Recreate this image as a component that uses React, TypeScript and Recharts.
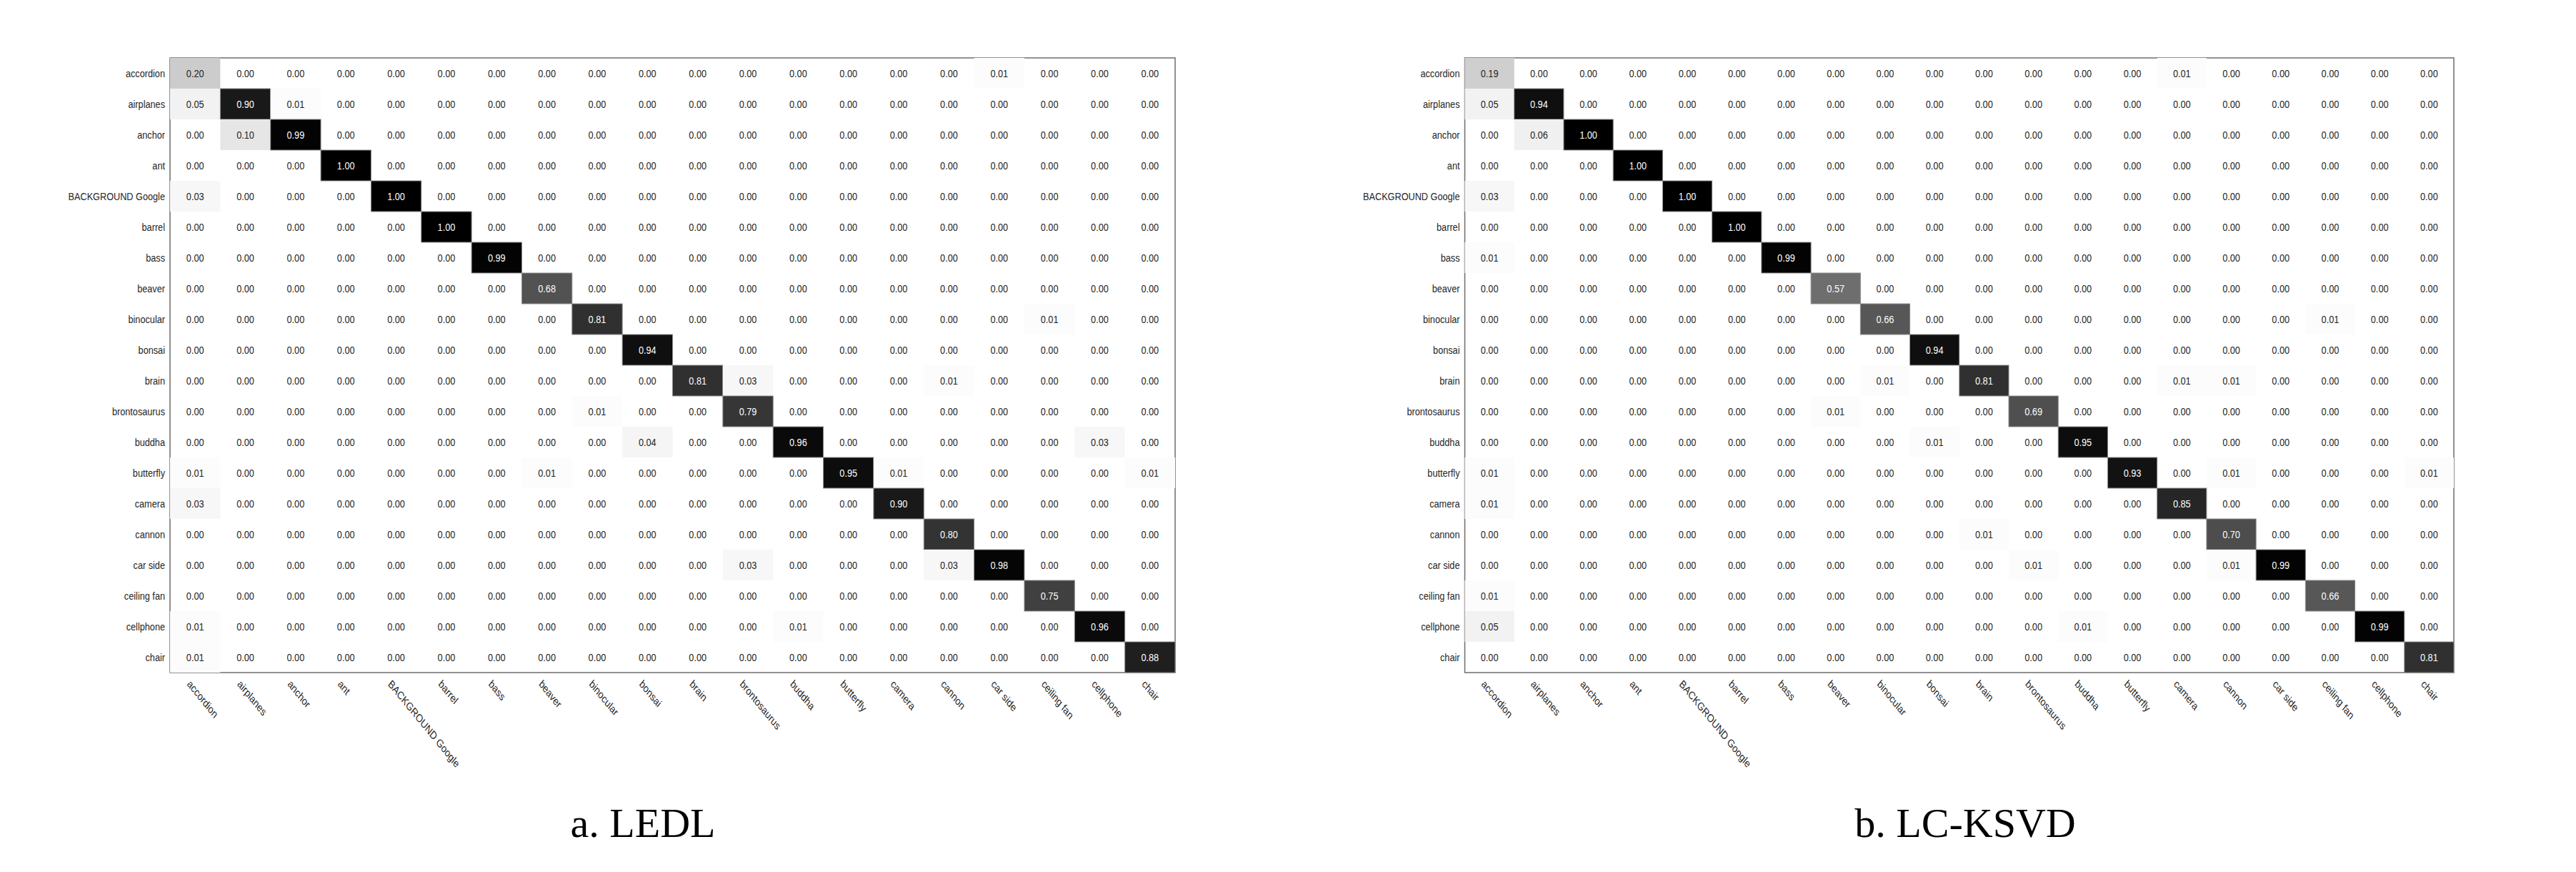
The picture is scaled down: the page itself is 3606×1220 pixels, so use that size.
import { ReferenceArea, Scatter, ScatterChart, XAxis, YAxis } from "recharts";

const classNames = [
  "accordion", "airplanes", "anchor", "ant", "BACKGROUND Google", "barrel", "bass", "beaver",
  "binocular", "bonsai", "brain", "brontosaurus", "buddha", "butterfly", "camera", "cannon",
  "car side", "ceiling fan", "cellphone", "chair"
];

// rows = true class, columns = predicted class
const ledlRows = [
  [0.20, 0, 0, 0, 0, 0, 0, 0, 0, 0, 0, 0, 0, 0, 0, 0, 0.01, 0, 0, 0],
  [0.05, 0.90, 0.01, 0, 0, 0, 0, 0, 0, 0, 0, 0, 0, 0, 0, 0, 0, 0, 0, 0],
  [0, 0.10, 0.99, 0, 0, 0, 0, 0, 0, 0, 0, 0, 0, 0, 0, 0, 0, 0, 0, 0],
  [0, 0, 0, 1.00, 0, 0, 0, 0, 0, 0, 0, 0, 0, 0, 0, 0, 0, 0, 0, 0],
  [0.03, 0, 0, 0, 1.00, 0, 0, 0, 0, 0, 0, 0, 0, 0, 0, 0, 0, 0, 0, 0],
  [0, 0, 0, 0, 0, 1.00, 0, 0, 0, 0, 0, 0, 0, 0, 0, 0, 0, 0, 0, 0],
  [0, 0, 0, 0, 0, 0, 0.99, 0, 0, 0, 0, 0, 0, 0, 0, 0, 0, 0, 0, 0],
  [0, 0, 0, 0, 0, 0, 0, 0.68, 0, 0, 0, 0, 0, 0, 0, 0, 0, 0, 0, 0],
  [0, 0, 0, 0, 0, 0, 0, 0, 0.81, 0, 0, 0, 0, 0, 0, 0, 0, 0.01, 0, 0],
  [0, 0, 0, 0, 0, 0, 0, 0, 0, 0.94, 0, 0, 0, 0, 0, 0, 0, 0, 0, 0],
  [0, 0, 0, 0, 0, 0, 0, 0, 0, 0, 0.81, 0.03, 0, 0, 0, 0.01, 0, 0, 0, 0],
  [0, 0, 0, 0, 0, 0, 0, 0, 0.01, 0, 0, 0.79, 0, 0, 0, 0, 0, 0, 0, 0],
  [0, 0, 0, 0, 0, 0, 0, 0, 0, 0.04, 0, 0, 0.96, 0, 0, 0, 0, 0, 0.03, 0],
  [0.01, 0, 0, 0, 0, 0, 0, 0.01, 0, 0, 0, 0, 0, 0.95, 0.01, 0, 0, 0, 0, 0.01],
  [0.03, 0, 0, 0, 0, 0, 0, 0, 0, 0, 0, 0, 0, 0, 0.90, 0, 0, 0, 0, 0],
  [0, 0, 0, 0, 0, 0, 0, 0, 0, 0, 0, 0, 0, 0, 0, 0.80, 0, 0, 0, 0],
  [0, 0, 0, 0, 0, 0, 0, 0, 0, 0, 0, 0.03, 0, 0, 0, 0.03, 0.98, 0, 0, 0],
  [0, 0, 0, 0, 0, 0, 0, 0, 0, 0, 0, 0, 0, 0, 0, 0, 0, 0.75, 0, 0],
  [0.01, 0, 0, 0, 0, 0, 0, 0, 0, 0, 0, 0, 0.01, 0, 0, 0, 0, 0, 0.96, 0],
  [0.01, 0, 0, 0, 0, 0, 0, 0, 0, 0, 0, 0, 0, 0, 0, 0, 0, 0, 0, 0.88]
];

const lcksvdRows = [
  [0.19, 0, 0, 0, 0, 0, 0, 0, 0, 0, 0, 0, 0, 0, 0.01, 0, 0, 0, 0, 0],
  [0.05, 0.94, 0, 0, 0, 0, 0, 0, 0, 0, 0, 0, 0, 0, 0, 0, 0, 0, 0, 0],
  [0, 0.06, 1.00, 0, 0, 0, 0, 0, 0, 0, 0, 0, 0, 0, 0, 0, 0, 0, 0, 0],
  [0, 0, 0, 1.00, 0, 0, 0, 0, 0, 0, 0, 0, 0, 0, 0, 0, 0, 0, 0, 0],
  [0.03, 0, 0, 0, 1.00, 0, 0, 0, 0, 0, 0, 0, 0, 0, 0, 0, 0, 0, 0, 0],
  [0, 0, 0, 0, 0, 1.00, 0, 0, 0, 0, 0, 0, 0, 0, 0, 0, 0, 0, 0, 0],
  [0.01, 0, 0, 0, 0, 0, 0.99, 0, 0, 0, 0, 0, 0, 0, 0, 0, 0, 0, 0, 0],
  [0, 0, 0, 0, 0, 0, 0, 0.57, 0, 0, 0, 0, 0, 0, 0, 0, 0, 0, 0, 0],
  [0, 0, 0, 0, 0, 0, 0, 0, 0.66, 0, 0, 0, 0, 0, 0, 0, 0, 0.01, 0, 0],
  [0, 0, 0, 0, 0, 0, 0, 0, 0, 0.94, 0, 0, 0, 0, 0, 0, 0, 0, 0, 0],
  [0, 0, 0, 0, 0, 0, 0, 0, 0.01, 0, 0.81, 0, 0, 0, 0.01, 0.01, 0, 0, 0, 0],
  [0, 0, 0, 0, 0, 0, 0, 0.01, 0, 0, 0, 0.69, 0, 0, 0, 0, 0, 0, 0, 0],
  [0, 0, 0, 0, 0, 0, 0, 0, 0, 0.01, 0, 0, 0.95, 0, 0, 0, 0, 0, 0, 0],
  [0.01, 0, 0, 0, 0, 0, 0, 0, 0, 0, 0, 0, 0, 0.93, 0, 0.01, 0, 0, 0, 0.01],
  [0.01, 0, 0, 0, 0, 0, 0, 0, 0, 0, 0, 0, 0, 0, 0.85, 0, 0, 0, 0, 0],
  [0, 0, 0, 0, 0, 0, 0, 0, 0, 0, 0.01, 0, 0, 0, 0, 0.70, 0, 0, 0, 0],
  [0, 0, 0, 0, 0, 0, 0, 0, 0, 0, 0, 0.01, 0, 0, 0, 0.01, 0.99, 0, 0, 0],
  [0.01, 0, 0, 0, 0, 0, 0, 0, 0, 0, 0, 0, 0, 0, 0, 0, 0, 0.66, 0, 0],
  [0.05, 0, 0, 0, 0, 0, 0, 0, 0, 0, 0, 0, 0.01, 0, 0, 0, 0, 0, 0.99, 0],
  [0, 0, 0, 0, 0, 0, 0, 0, 0, 0, 0, 0, 0, 0, 0, 0, 0, 0, 0, 0.81]
];

const captions = ["a. LEDL", "b. LC-KSVD"];

const SANS = "'Liberation Sans', Arial, Helvetica, sans-serif";
const SERIF = "'Liberation Serif', 'Times New Roman', Times, serif";
const SQUASH = 0.82; // the figure was squeezed horizontally
const TOP = 81;
const X_AXIS_H = 279;
const CHART_H = 1220;
const tickPos = classNames.map((_, i) => i + 0.5);

function toPoints(rows: number[][]) {
  return rows.flatMap((row, r) => row.map((v, c) => ({ x: c + 0.5, y: r + 0.5, v })));
}

function makeCell(cellW: number, cellH: number) {
  return (props: any) => {
    const { cx, cy, payload } = props;
    const v = payload.v;
    const g = Math.round(255 * (1 - v));
    return (
      <g>
        {v > 0.005 && (
          <rect
            x={cx - cellW / 2}
            y={cy - cellH / 2}
            width={cellW}
            height={cellH}
            fill={`rgb(${g},${g},${g})`}
            stroke={v >= 0.5 ? "#8c8c8c" : "none"}
            strokeWidth={1}
          />
        )}
        <text
          transform={`translate(${cx},${cy + 5.5}) scale(${SQUASH},1)`}
          textAnchor="middle"
          fontSize={15.5}
          fontFamily={SANS}
          fill={v > 0.5 ? "#ffffff" : "#222222"}
        >
          {v.toFixed(2)}
        </text>
      </g>
    );
  };
}

function RowTick(props: any) {
  const { x, y, payload } = props;
  return (
    <text
      transform={`translate(${x - 7},${y + 5.5}) scale(${SQUASH},1)`}
      textAnchor="end"
      fontSize={15.5}
      fontFamily={SANS}
      fill="#262626"
    >
      {classNames[Math.floor(payload.value)]}
    </text>
  );
}

function ColTick(props: any) {
  const { x, y, payload } = props;
  return (
    <text
      transform={`translate(${x - 12},${y + 17}) scale(${SQUASH},1) rotate(45)`}
      textAnchor="start"
      fontSize={15.5}
      fontFamily={SANS}
      fill="#262626"
    >
      {classNames[Math.floor(payload.value)]}
    </text>
  );
}

interface MatrixProps {
  rows: number[][];
  left: number;
  width: number;
  yAxisWidth: number;
  marginRight: number;
}

function Matrix({ rows, left, width, yAxisWidth, marginRight }: MatrixProps) {
  const plotW = width - yAxisWidth - marginRight;
  const plotH = CHART_H - TOP - X_AXIS_H;
  const cell = makeCell(plotW / classNames.length, plotH / classNames.length);
  return (
    <div style={{ position: "absolute", left, top: 0 }}>
      <ScatterChart
        width={width}
        height={CHART_H}
        margin={{ top: TOP, right: marginRight, bottom: 0, left: 0 }}
      >
        <XAxis
          type="number"
          dataKey="x"
          domain={[0, 20]}
          ticks={tickPos}
          interval={0}
          height={X_AXIS_H}
          axisLine={false}
          tickLine={false}
          tickSize={0}
          tickMargin={0}
          tick={<ColTick />}
        />
        <YAxis
          type="number"
          dataKey="y"
          domain={[0, 20]}
          reversed
          ticks={tickPos}
          interval={0}
          width={yAxisWidth}
          axisLine={false}
          tickLine={false}
          tickSize={0}
          tickMargin={0}
          tick={<RowTick />}
        />
        <Scatter data={toPoints(rows)} shape={cell} isAnimationActive={false} />
        <ReferenceArea
          x1={0}
          x2={20}
          y1={0}
          y2={20}
          fill="none"
          fillOpacity={0}
          stroke="#6e6e6e"
          strokeWidth={1.5}
        />
      </ScatterChart>
    </div>
  );
}

export default function App() {
  return (
    <div style={{ position: "absolute", left: 0, top: 0, width: 3606, height: 1220, background: "#fff" }}>
      <Matrix rows={ledlRows} left={0} width={1800} yAxisWidth={238} marginRight={155} />
      <Matrix rows={lcksvdRows} left={1800} width={1806} yAxisWidth={250.5} marginRight={171} />
      <svg width={3606} height={1220} style={{ position: "absolute", left: 0, top: 0, pointerEvents: "none" }}>
        <text x={900} y={1171} textAnchor="middle" fontSize={58} fontFamily={SERIF} fill="#000">
          {captions[0]}
        </text>
        <text x={2751} y={1171} textAnchor="middle" fontSize={58} fontFamily={SERIF} fill="#000">
          {captions[1]}
        </text>
      </svg>
    </div>
  );
}
